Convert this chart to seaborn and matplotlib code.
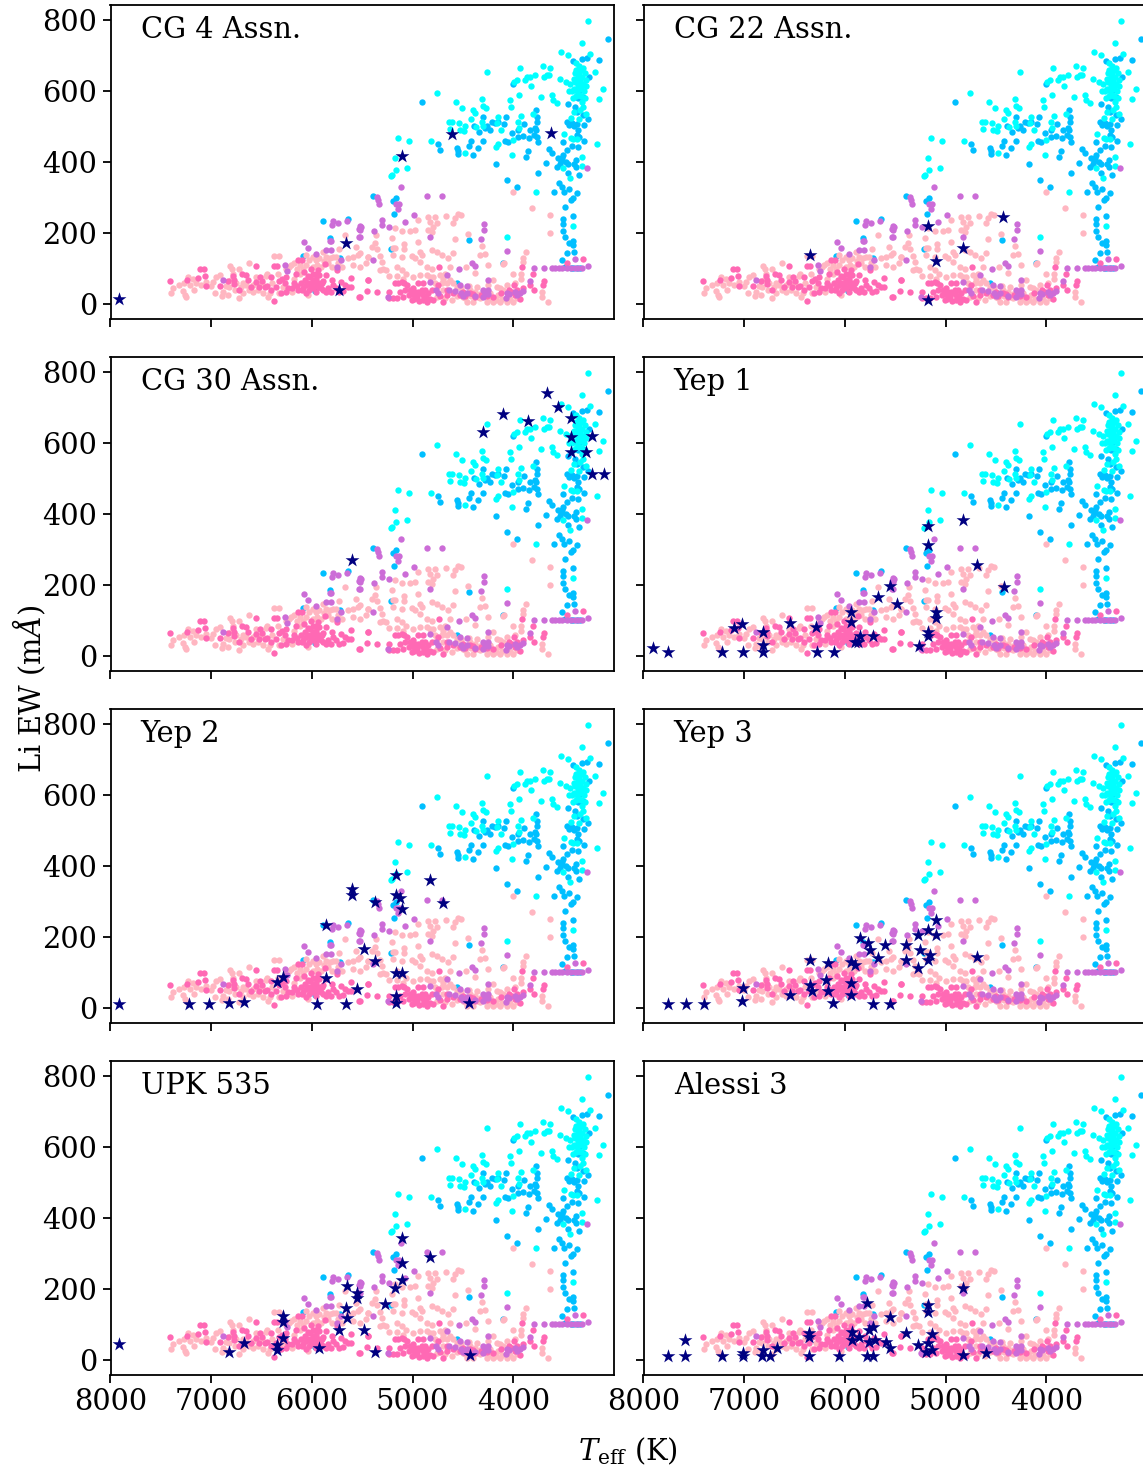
import pandas as pd
import matplotlib
matplotlib.use('Agg')
import matplotlib.pyplot as plt
import seaborn as sns

# background clusters (Teff, Li EW)
cyan_pts = [(3262,796),(3322,736),(3527,710),(3454,700),(3239,703),(4259,653),(3937,665),(3709,670),(3633,666),(3189,652),
(3107,605),(3150,577),(4758,594),(4573,570),(4308,576),(4513,551),(3944,589),(4033,575),(4023,554),(3726,582),(3613,589),
(3610,575),(3563,565),(4298,557),(4272,551),(4398,546),(4378,537),(4424,520),(4636,512),(4613,514),(4543,509),(4629,492),
(4530,490),(4480,501),(4490,488),(4371,498),(4311,513),(4305,501),(4156,528),(4159,511),(4120,490),(3924,530),(3951,512),
(3941,495),(3802,535),(5142,468),(5033,458),(4821,458),(3497,478),(3173,450),(3424,467),(3405,464),(3372,466),(4149,451),
(4172,441),(4004,462),(4014,420),(4480,424),(5172,412),(5162,377),(5056,382),(5218,361),(5200,363),(3504,383),(3322,415),
(3322,390),(3434,354),(3775,316),(3405,220),(4060,188),(3880,630),(3860,640),(3830,640),(3780,645),(3700,640),(3670,645),
(3650,645),(3990,625),(3960,630),(3820,615),(3540,635),(3480,625),
(3380,680),(3350,670),(3330,660),(3310,665),(3390,650),(3360,645),(3320,640),(3290,650),(3400,635),(3370,625),(3340,625),
(3310,620),(3280,630),(3440,620),(3420,600),(3395,605),(3365,600),(3340,605),(3300,600),(3275,615),(3450,600),(3410,580),
(3330,585),(3290,580),(3310,555),(3340,545),(3400,540),(3425,525),(3280,535),(3350,520),(3375,660),(3345,650),(3365,635),
(3335,632),(3385,625),(3355,615),(3325,610),(3350,590),(3375,585),(3320,570)]

sky_pts = [(3064,747),(3150,687),(3405,685),(3322,690),(3272,692),(3252,639),(4904,570),(4004,620),(3454,562),(3388,556),
(3355,579),(3305,584),(3338,603),(3372,542),(3305,532),(3262,522),(3775,546),(3768,528),(3762,514),(3785,495),(3770,490),
(4073,528),(4209,513),(4150,512),(4093,507),(4298,528),(4391,501),(4282,495),(4232,490),(4017,481),(3951,471),(3901,473),
(3894,507),(3841,467),(3768,469),(3752,457),(4083,459),(4050,455),(4302,458),(4421,460),(4437,445),(4348,440),(4401,419),
(4752,450),(4725,433),(4560,440),(4547,423),(4550,432),(3878,415),(3854,432),(4172,394),(3643,438),(3613,424),(3676,396),
(3752,370),(4067,348),(3961,329),(3464,514),(3421,509),(3365,507),(3302,503),(3355,490),(3372,476),(3510,457),(3295,459),
(3355,443),(3464,434),(3504,420),(3553,410),(3527,404),(3563,385),(3461,394),(3378,407),(3378,385),(3454,368),(3348,363),
(3544,342),(3520,330),(3497,316),(3448,324),(3593,316),(3372,313),(3405,298),(3431,293),(3491,272),(3411,248),(3504,239),
(3510,225),(3510,207),(3487,188),(3444,171),(3405,178),(3405,166),(3471,143),(3395,146),(3517,124),(3487,105),(3405,102),
(3372,102),(3431,102),(3340,102),(5390,303),(5165,300),(5192,290),(5182,255),(4437,179),(5215,155),(4556,60),(4100,116),
(5888,235),(5643,239),(5825,186),(5720,129),(6090,135),(5974,38),(3830,490),(3790,475),(3445,505),(3395,500),(3345,470),
(3415,445),(3480,400),(3520,412),(3540,395),(3400,395),(3950,490),(4185,510),(4260,500),(4340,485)]

light_pts = [(7397,32),(7381,44),(7315,54),(7275,58),(7282,37),(7265,25),(7249,21),(7209,54),(7166,41),(7182,72),(7100,54),
(7050,63),(7000,51),(6967,30),(6951,77),(6908,82),(6884,35),(6891,23),(6835,25),(6818,107),(6795,100),(6726,99),(6719,16),
(6686,30),(6620,117),(6653,54),(6587,35),(6537,39),(6487,30),(6438,21),(6444,86),(6372,135),(6322,135),(6322,30),(6196,35),
(6206,110),(6173,115),(6123,110),(6057,138),(6031,124),(6090,100),(5958,124),(5892,147),(5792,133),(5743,115),(5726,154),
(5676,194),(5643,129),(5594,133),(5544,138),(5561,162),(5594,110),(5445,133),(6034,25),(5925,129),(5842,115),(5991,105),
(5908,105),(5825,129),(5759,133),(6802,68),(6755,58),(6706,49),(6822,49),(6554,77),(6520,54),(6421,30),(6289,49),(6223,105),
(6173,72),(6123,86),(5991,133),(5858,133),(7150,60),(7230,75),(6980,62),(6850,50),(6780,85),(6620,40),(6500,60),(6400,60),
(6760,40),(6680,60),(6580,55),(6460,80),(6340,85),(6260,100),(6150,100),(6060,110),(5950,110),(5880,120),(5800,105),(5700,105),
(4000,315),(3818,271),(3636,251),(3636,199),(4848,246),(4778,246),(4672,248),(4547,254),(4523,251),(4580,241),(4596,227),
(4828,232),(4795,218),(4762,227),(4844,208),(4811,203),(4944,237),(5175,213),(5109,206),(5026,206),(4977,208),(5209,187),
(4950,176),(5367,194),(5374,171),(5357,155),(4580,182),(4454,196),(4308,164),(4331,138),(4282,141),(3875,148),(3901,129),
(3908,119),(4093,115),(5192,157),(5175,157),(5086,168),(5083,154),(4927,147),(4911,138),(4811,152),(4762,146),(4712,138),
(4646,131),(4603,143),(5192,138),(5109,133),(5010,135),(4977,129),(4927,119),(5324,135),(5308,119),(5291,100),(5324,96),
(5440,133),(5523,143),(5159,103),(5109,96),(4861,105),(4811,98),(4629,103),(4470,103),(4381,88),(4249,110),(4100,112),
(5235,80),(3928,84),(3928,72),(3719,35),(3719,21),(3653,6),(5093,72),(4993,77),(4927,82),(4861,82),(4795,77),(4729,82),
(4695,72),(4629,68),(4563,49),(4497,21),(4464,7),(4398,7),(4331,16),(4265,7),(4199,7),(4133,7),(4067,7),(4000,7),(3967,16),
(4199,68),(4166,49),(4100,39),(4762,49),(4431,39),(4364,49),(4613,11),(4712,58),(4300,25),(4230,30),(4150,25),(4050,22),
(4480,16),(4420,22),(4350,20),(4700,40),(4660,60),(4250,55),(4130,45),(5260,95),(5400,160),(5460,115),(5520,105),(4780,60),
(4830,75),(4680,85),(4600,60),(4520,45),(4440,50),(4380,35),(4330,28),(4270,22),(4220,15),(4170,12),(4110,14),(4030,14),
(4560,22),(4680,18),(4760,20),(5070,85),(5150,80),(3980,60),(4060,55),(4000,85)]

hot_pts = [(7407,64),(7242,68),(7133,73),(7113,99),(7067,100),(7057,80),(7050,51),(6914,50),(6835,66),(6769,69),(6775,56),
(6726,39),(6693,86),(6653,82),(6630,68),(6603,49),(6560,107),(6560,63),(6514,75),(6497,66),(6464,47),(6444,51),(6404,39),
(6378,9),(6372,107),(6350,107),(6411,77),(6355,49),(6305,32),(6295,72),(6255,77),(6272,58),(6255,35),(6179,58),(6156,86),
(6140,124),(6100,124),(6077,91),(6140,39),(6100,41),(6070,68),(6007,100),(5990,86),(5941,96),(5925,82),(5859,82),(5868,112),
(5746,96),(5802,68),(5610,73),(5534,21),(5445,68),(6040,58),(6007,49),(5974,63),(5958,72),(5925,58),(5991,68),(5941,49),
(5908,44),(6024,39),(6057,54),(6090,44),(5958,35),(5892,39),(5858,35),(5809,35),(5792,54),(5710,63),(5676,54),(5643,49),
(5610,49),(6020,75),(5960,85),(5900,60),(5985,45),(6040,80),(5950,55),(6000,60),(5890,65),(6110,60),(6200,45),(5840,45),
(5760,45),(5730,35),(5690,38),(6150,50),(6330,65),(6240,45),(6060,30),(6530,48),(6780,80),
(4742,103),(5444,67),(5457,38),(5357,35),(5523,21),(5232,33),(5232,18),(5192,18),(5159,18),(5126,33),(5175,58),(5142,58),
(5109,63),(5076,39),(5026,39),(4993,44),(4944,58),(4894,60),(5010,11),(4960,21),(4927,30),(4894,11),(4861,7),(4977,35),
(4911,39),(4844,30),(4795,11),(4811,39),(4745,54),(4695,7),(4656,25),(4530,25),(4431,30),(4381,21),(4199,21),(3990,55),
(4017,35),(3961,39),(3908,44),(3918,103),(3802,84),(3835,54),(3795,41),(3693,65),(3703,54),(3464,116),(3312,128),
(5040,25),(4985,15),(4950,35),(4900,25),(4870,20),(4830,15),(5000,28),(4940,10),(4880,40),(5060,55),(5090,60),(4600,30),
(4480,22),(4320,25),(4120,30),(4730,22),(4660,40),(4500,35),(4400,28),(4260,22),(4040,40),(3980,25),(3930,15),(5100,20)]

orchid_pts = [(5119,331),(5357,302),(5347,293),(5331,282),(4858,303),(4712,305),(5165,282),(5132,282),(5142,267),(4983,251),
(5076,231),(5308,237),(5308,224),(5238,216),(5513,218),(5523,208),(5381,206),(5523,188),(4292,225),(4288,208),(4828,190),
(4321,183),(4060,149),(5397,123),(4408,117),(4378,108),(4540,100),(4656,81),(3798,102),(3693,102),(3620,102),(3587,102),
(3547,102),(3520,102),(3471,102),(3431,102),(3388,102),(3355,102),(3315,102),(3262,107),(3388,126),(3266,383),(4828,63),
(4530,55),(4457,52),(4252,68),(3835,66),(4768,39),(4745,30),(4636,39),(4580,38),(4520,32),(4464,30),(4381,23),(4298,39),
(4282,30),(4249,41),(4249,28),(4067,30),(4076,16),(3984,35),(3934,30),(3901,37),(5242,19),(5786,235),(5739,228),(5802,222),
(5656,233),(5534,210),(5521,220),(5534,189),(6083,176),(6034,158),(5964,141),(5858,151),(5809,151),(5809,178),(5825,178),
(5710,124),(5746,105),(6272,110),(6246,93),(6878,68),(4300,20),(4040,28),(3960,25),(4500,22)]

bg_layers = [('#00BFFF', sky_pts), ('#00FFFF', cyan_pts), ('#FFB6C1', light_pts), ('#FF69B4', hot_pts), ('#CC6CD7', orchid_pts)]

# cluster members
cg4 = [(7920,15),(5731,39),(5662,172),(5104,417),(4607,479),(3622,482)]
cg22 = [(6348,138),(5174,220),(5095,121),(5174,11),(4826,158),(4428,245)]
cg30 = [(5602,270),(4299,631),(4100,682),(3851,662),(3662,741),(3552,701),(3423,670),(3423,617),(3423,575),(3274,575),
(3214,620),(3214,513),(3104,513)]
yep1 = [(7910,22),(7761,11),(7224,11),(7015,11),(6816,11),(6816,31),(6816,68),(7104,79),(7025,90),(6547,93),(6279,11),(6289,82),
(6110,11),(5940,124),(5940,96),(5900,39),(5851,56),(5871,39),(5721,56),(5672,166),(5552,197),(5483,146),(5264,28),(5174,68),
(5174,366),(5174,313),(5095,124),(5095,107),(4826,383),(4687,256),(4418,194),(5174,56)]
yep2 = [(7920,11),(7224,11),(7025,11),(6826,14),(6677,17),(6348,73),(6289,87),(5950,11),(5861,85),(5861,234),(5662,11),(5602,335),
(5602,318),(5552,54),(5483,166),(5373,299),(5373,132),(5164,375),(5164,318),(5164,34),(5164,14),(5104,99),(5164,99),(5124,310),
(5104,279),(4826,361),(4697,296),(4438,14)]
yep3 = [(7761,11),(7582,11),(7403,11),(7025,20),(7015,56),(6547,37),(6348,135),(6348,65),(6328,48),(6169,127),(6189,79),(6169,48),
(6119,14),(5940,130),(5940,70),(5940,37),(5900,121),(5851,197),(5771,183),(5751,163),(5672,141),(5602,177),(5721,11),(5552,11),
(5393,177),(5393,135),(5274,206),(5254,163),(5274,113),(5174,220),(5154,149),(5174,135),(5095,206),(5095,248),(4687,144)]
upk535 = [(7920,45),(6826,23),(6677,48),(6348,28),(6348,42),(6289,62),(6289,107),(6289,124),(5930,34),(5731,85),(5662,146),(5652,118),
(5652,208),(5552,189),(5552,175),(5483,85),(5373,23),(5274,158),(5174,203),(5104,225),(5104,273),(5104,344),(4826,290),(4428,14)]
alessi3 = [(7761,12),(7592,12),(7592,56),(7221,12),(7015,12),(7015,21),(6823,12),(6817,28),(6744,12),(6674,35),(6352,12),(6352,75),
(6352,66),(6054,12),(5931,80),(5931,56),(5862,64),(5779,12),(5723,12),(5723,94),(5756,84),(5779,160),(5756,52),(5706,56),(5590,52),
(5557,35),(5553,122),(5393,76),(5274,42),(5174,155),(5174,135),(5134,73),(5174,48),(5134,28),(5194,23),(4826,203),(4826,14),(4597,20)]

names = ['CG 4 Assn.', 'CG 22 Assn.', 'CG 30 Assn.', 'Yep 1', 'Yep 2', 'Yep 3', 'UPK 535', 'Alessi 3']
members = [cg4, cg22, cg30, yep1, yep2, yep3, upk535, alessi3]

sns.set_style('ticks')
plt.rcParams['font.family'] = ['DejaVu Serif']
plt.rcParams['mathtext.fontset'] = 'dejavuserif'
plt.rcParams['text.color'] = 'black'
plt.rcParams['xtick.color'] = 'black'
plt.rcParams['ytick.color'] = 'black'
plt.rcParams['axes.edgecolor'] = 'black'

W, H = 1143, 1468
fig = plt.figure(figsize=(W / 100, H / 100), dpi=100)
lefts = [110.5, 643.5]
tops = [5, 357, 709, 1061]
ax_w, ax_h = 503.5, 314

for i in range(8):
    col = i % 2
    row = i // 2
    ax = fig.add_axes([lefts[col] / W, 1 - (tops[row] + ax_h) / H, ax_w / W, ax_h / H])
    for color, pts in bg_layers:
        d = pd.DataFrame(pts, columns=['teff', 'ew'])
        sns.scatterplot(data=d, x='teff', y='ew', color=color, s=21, linewidth=0, ax=ax, zorder=2)
    d = pd.DataFrame(members[i], columns=['teff', 'ew'])
    sns.scatterplot(data=d, x='teff', y='ew', color='navy', marker='*', s=110, linewidth=0, ax=ax, zorder=3)
    ax.set_xlim(8000, 3000)
    ax.set_ylim(-42, 842)
    ax.set_xticks([8000, 7000, 6000, 5000, 4000])
    ax.set_yticks([0, 200, 400, 600, 800])
    ax.tick_params(axis='both', length=6, width=1.3, labelsize=20.8, pad=3.5)
    ax.set_xlabel('')
    ax.set_ylabel('')
    if row < 3:
        ax.set_xticklabels([])
    if col == 1:
        ax.set_yticklabels([])
    for s in ax.spines.values():
        s.set_linewidth(1.3)
    ax.text(0.06, 0.92, names[i], transform=ax.transAxes, fontsize=20.8, va='center', ha='left')

fig.text(29 / W, 1 - 689 / H, r'Li EW (m$\AA$)', rotation=90, fontsize=20.8, va='center', ha='center')
fig.text(628 / W, 1 - 1451 / H, r'$T_{\rm eff}$ (K)', fontsize=20.8, va='center', ha='center')
fig.savefig('out.png', dpi=100)
